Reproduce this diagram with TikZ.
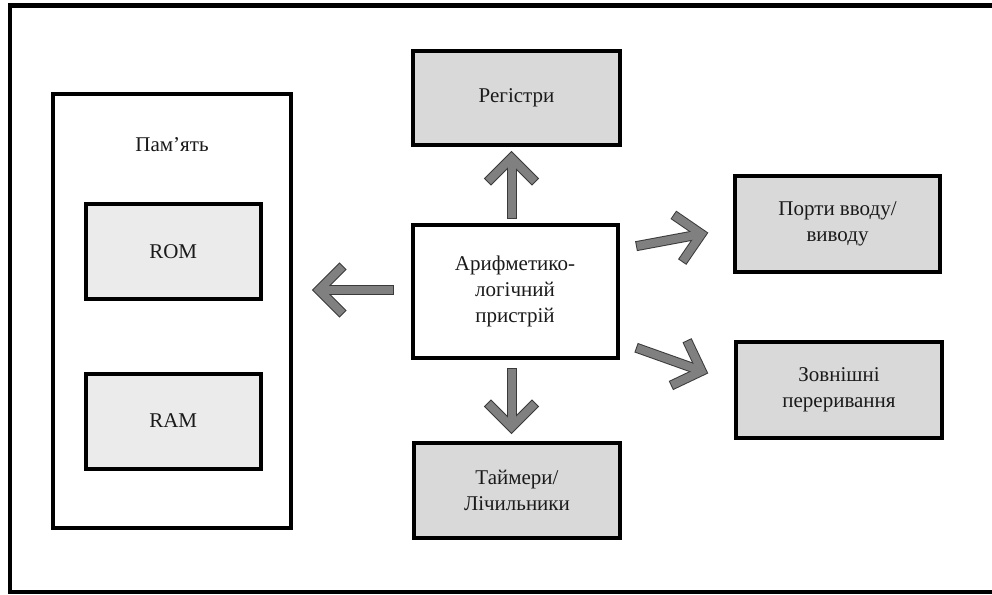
\documentclass[tikz,border=0pt]{standalone}
\usepackage{fontspec}
\setmainfont{Liberation Serif}
\usetikzlibrary{calc}
\definecolor{boxgray}{HTML}{D9D9D9}
\definecolor{lightbox}{HTML}{EBEBEB}
\definecolor{arrowfill}{HTML}{808080}
\definecolor{arrowline}{HTML}{3A3A3A}
\definecolor{textc}{HTML}{1A1A1A}
\newcommand\blockarrow[2]{%
  \draw[arrowline, line width=10pt] ($(#1)!-1pt!(#2)$) -- (#2);
  \draw[arrowline, line width=10pt, miter limit=10] ($(#2)!34pt!45:(#1)$) -- (#2) -- ($(#2)!34pt!-45:(#1)$);
  \draw[arrowfill, line width=8pt] (#1) -- (#2);
  \draw[arrowfill, line width=8pt, miter limit=10] ($(#2)!33pt!45:(#1)$) -- (#2) -- ($(#2)!33pt!-45:(#1)$);
}
\begin{document}
\begin{tikzpicture}[x=1pt,y=-1pt,
  basebox/.style={draw=black, line width=4pt, inner sep=0pt, align=center,
    font=\fontsize{21}{26}\selectfont, text=textc},
  box/.style={basebox, fill=boxgray},
  membox/.style={basebox, fill=lightbox},
  txt/.style={inner sep=0pt, font=\fontsize{21}{26}\selectfont, text=textc}]
\useasboundingbox (0,0) rectangle (992,594);
% outer frame
\draw[line width=4.5pt] (1000,5.5) -- (10,5.5) -- (10,592) -- (1000,592);
% memory
\node[basebox, fill=white, minimum width=238pt, minimum height=434.5pt] (mem) at (172,311) {};
\node[txt] (memlabel) at (172,145) {Пам’ять};
\node[membox, minimum width=174.5pt, minimum height=95pt] (rom) at (173.25,251.5) {ROM};
\node[membox, minimum width=174.5pt, minimum height=95pt] (ram) at (173.25,421) {RAM};
% centre column
\node[box, minimum width=207pt, minimum height=94pt] (reg) at (516.5,98) {Регістри};
\node[basebox, fill=white, minimum width=205pt, minimum height=133pt] (alu) at (515,291.5) {Арифметико-\\логічний\\пристрій};
\node[box, minimum width=206pt, minimum height=95pt] (tim) at (517,490) {Таймери/\\Лічильники};
% right column
\node[box, minimum width=205.5pt, minimum height=96pt] (port) at (837.5,223.5) {Порти вводу/\\виводу};
\node[box, minimum width=206pt, minimum height=96pt] (ext) at (839,390) {Зовнішні\\переривання};
% arrows
\coordinate (upS) at (511.5,218);
\coordinate (upT) at (511.5,158);
\coordinate (leftS) at (393,290);
\coordinate (leftT) at (319,290);
\coordinate (downS) at (511.5,369);
\coordinate (downT) at (511.5,427);
\coordinate (ruS) at (637,246);
\coordinate (ruT) at (701.4,234);
\coordinate (rdS) at (637,348);
\coordinate (rdT) at (701.6,371);
\blockarrow{upS}{upT}
\blockarrow{leftS}{leftT}
\blockarrow{downS}{downT}
\blockarrow{ruS}{ruT}
\blockarrow{rdS}{rdT}
\end{tikzpicture}
\end{document}
